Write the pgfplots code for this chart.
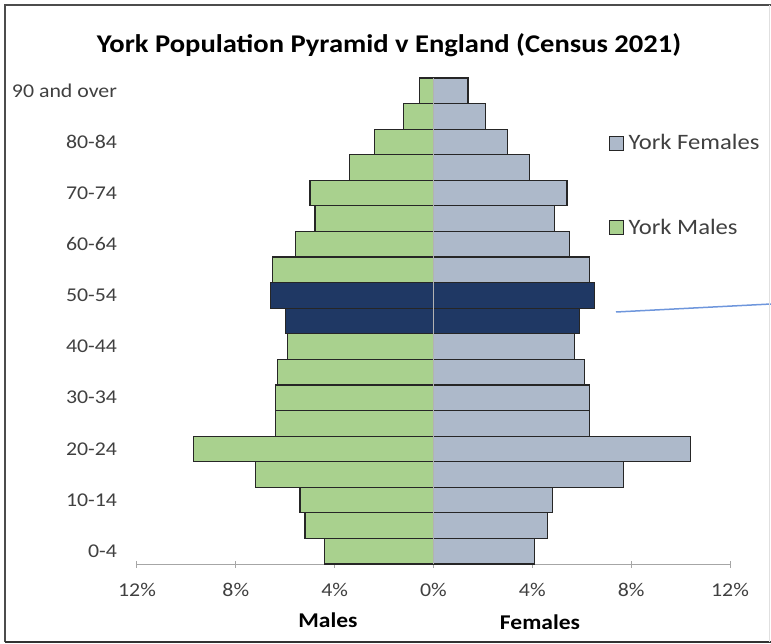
\documentclass[border=0pt]{standalone}
\usepackage{pgfplots}
\pgfplotsset{compat=1.18}
\usepackage{pgfplotstable}
\usepackage{fontspec}
\setmainfont{Carlito}[FakeStretch=1.12]
\definecolor{mgreen}{HTML}{A9D18E}
\definecolor{fblue}{HTML}{ADB9CA}
\definecolor{navy}{HTML}{1F3864}
\definecolor{txt}{HTML}{404040}
\definecolor{lineblue}{RGB}{110,150,220}

\pgfplotstableread{
idx m f
0 4.4 4.1
1 5.2 4.6
2 5.4 4.8
3 7.2 7.7
4 9.7 10.4
5 6.4 6.3
6 6.4 6.3
7 6.3 6.1
8 5.9 5.7
11 6.5 6.3
12 5.6 5.5
13 4.8 4.9
14 5.0 5.4
15 3.4 3.9
16 2.4 3.0
17 1.2 2.1
18 0.57 1.4
}\maindata
\pgfplotstableread{
idx m f
9 6.0 5.9
10 6.6 6.5
}\hidata

\begin{document}
\begin{tikzpicture}
\useasboundingbox (0pt,0pt) rectangle (771pt,-644pt);
\begin{axis}[
  at={(137pt,-564pt)}, anchor=south west,
  scale only axis, width=593pt, height=486pt,
  xmin=-12, xmax=12, ymin=-0.5, ymax=18.5,
  xbar, bar width=1, bar shift=0pt,
  /pgf/number format/assume math mode=true,
  xtick={-12,-8,-4,0,4,8,12},
  xticklabels={12\%,8\%,4\%,0\%,4\%,8\%,12\%},
  ytick={0,2,4,6,8,10,12,14,16,18},
  yticklabels={0-4,10-14,20-24,30-34,40-44,50-54,60-64,70-74,80-84,90 and over},
  axis x line*=bottom, axis y line*=left,
  y axis line style={draw=none},
  x axis line style={gray!70, line width=1pt, -},
  xtick style={gray!70, line width=1pt},
  major tick length=7pt, tick align=center,
  ytick style={draw=none},
  xticklabel style={font=\fontsize{19.5}{22}\selectfont, text=txt, yshift=-12pt},
  yticklabel style={font=\fontsize{19.5}{22}\selectfont, text=txt, anchor=east, xshift=-13pt},
  legend style={at={(0.79,0.89)}, anchor=north west, draw=none, fill=none,
    font=\fontsize{22}{26}\selectfont, text=txt, row sep=66pt,
    nodes={inner sep=1pt}},
  legend cell align=left,
  legend image code/.code={\draw[#1, line width=0.8pt] (0pt,-7pt) rectangle (14pt,7pt); \path (18pt,0pt);},
  clip=false,
]
\addplot[fill=fblue, draw=black!85, line width=1.2pt] table[x=f, y=idx] {\maindata};
\addlegendentry{York Females}
\addplot[fill=mgreen, draw=black!85, line width=1.2pt] table[x expr=-\thisrow{m}, y=idx] {\maindata};
\addlegendentry{York Males}
\addplot[fill=navy, draw=black!85, line width=1.2pt, forget plot] table[x=f, y=idx] {\hidata};
\addplot[fill=navy, draw=black!85, line width=1.2pt, forget plot] table[x expr=-\thisrow{m}, y=idx] {\hidata};
\draw[gray!60, line width=1.5pt] (axis cs:0,-0.5) -- (axis cs:0,18.5);
\end{axis}
\node[font=\bfseries\fontsize{25.5}{30}\selectfont] at (389pt,-45pt) {York Population Pyramid v England (Census 2021)};
\node[font=\bfseries\fontsize{21}{24}\selectfont] at (328pt,-620pt) {Males};
\node[font=\bfseries\fontsize{21}{24}\selectfont] at (540pt,-622pt) {Females};
\draw[lineblue, line width=1.5pt] (616pt,-312pt) -- (771pt,-304pt);
\draw[black!70, line width=2pt] (5pt,-642pt) -- (5pt,-5pt) -- (771pt,-5pt);
\draw[black!80, line width=2pt] (5pt,-642pt) -- (771pt,-642pt);
\draw[black!12, line width=1pt] (769pt,-5pt) -- (769pt,-642pt);
\end{tikzpicture}
\end{document}
